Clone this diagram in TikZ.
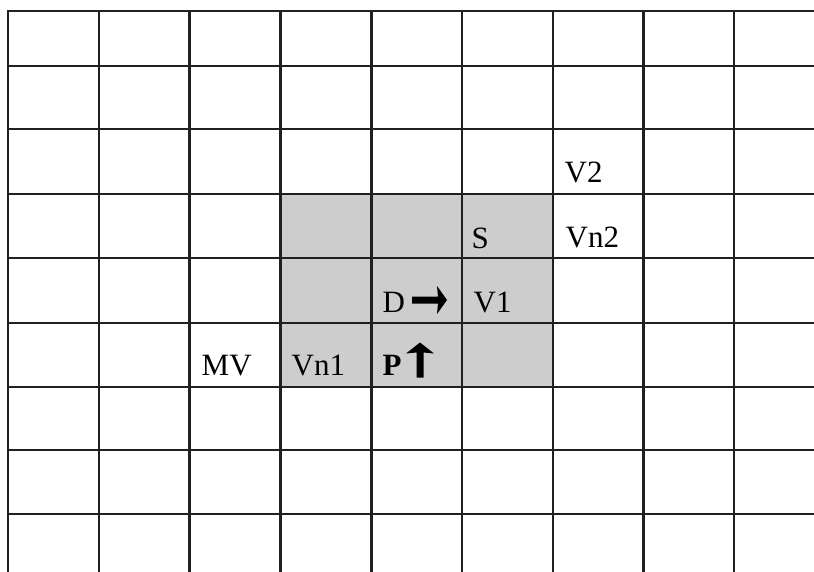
\documentclass[tikz,border=0pt]{standalone}
\usepackage{fontspec}
\setmainfont{Liberation Serif}
\definecolor{gridline}{RGB}{35,31,32}
\definecolor{cellshade}{RGB}{205,205,205}
\tikzset{
  gridpen/.style={draw=gridline, line width=2.8pt, line cap=rect},
  celltext/.style={anchor=base west, inner sep=0pt, font=\fontsize{31}{31}\selectfont, text=black},
  boldarrow/.style={fill=black, draw=none}
}
\begin{document}
\begin{tikzpicture}[x=1pt, y=-1pt]
  \useasboundingbox (0,0) rectangle (814,572);
  \clip (0,0) rectangle (814,572);
  \fill[white] (0,0) rectangle (814,572);

  % shaded 3x3 block of cells
  \fill[cellshade] (280.5,194) rectangle (553,387);

  % vertical grid lines
  \foreach \x in {8,99,189.5,280.5,371.5,462,553,643.5,734}
    \draw[gridpen] (\x,11) -- (\x,580);
  % horizontal grid lines
  \foreach \y in {11,66,129,194,258,323,387,450,514}
    \draw[gridpen] (8,\y) -- (820,\y);

  % cell labels
  \node[celltext] (v2)  at (564.5,183) {V2};
  \node[celltext] (vn2) at (565.5,247.5) {Vn2};
  \node[celltext] (s)   at (471.5,248) {S};
  \node[celltext] (d)   at (382.5,312) {D};
  \node[celltext] (v1)  at (473.5,312) {V1};
  \node[celltext] (vn1) at (291.5,375) {Vn1};
  \node[celltext, font=\fontsize{31}{31}\selectfont\bfseries] (p) at (382.5,375.5) {P};
  \node[celltext] (mv)  at (201.5,375) {MV};

  % heavy arrow pointing right, beside D
  \fill[boldarrow] (412,296.5) -- (438,296.5) -- (437,286) -- (447,300)
    -- (437,314) -- (438,303.5) -- (412,303.5) -- cycle;
  % heavy arrow pointing up, beside P
  \fill[boldarrow] (416.5,377.5) -- (416.5,352.5) -- (406,353.5) -- (420,342.5)
    -- (434,353.5) -- (423.5,352.5) -- (423.5,377.5) -- cycle;
\end{tikzpicture}
\end{document}
